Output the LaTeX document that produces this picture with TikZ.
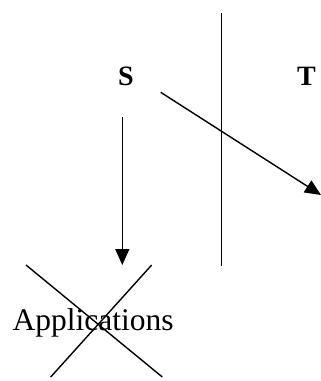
\documentclass[tikz,border=0pt]{standalone}
\usepackage{fontspec}
\setmainfont{Liberation Serif}
\usetikzlibrary{arrows.meta}

\begin{document}
\begin{tikzpicture}[x=1pt,y=-1pt,line width=1.4pt,
  arr/.style={-{Triangle[length=16pt,width=14pt]}},
  side/.style={font=\bfseries\fontsize{28}{32}\selectfont,anchor=base,inner sep=0pt}]
  \useasboundingbox (0,0) rectangle (321,381);
  \node[side] (s) at (126,85) {S};
  \node[side] (t) at (306.5,85) {T};
  \node[font=\fontsize{31.5}{36}\selectfont,anchor=base west,inner sep=0pt] (apps) at (12,330) {Applications};

  \coordinate (wallTop) at (221.7,13);
  \coordinate (wallBot) at (221.7,266);
  \draw (wallTop) -- (wallBot);

  \coordinate (sOut) at (160.7,92.3);
  \coordinate (tIn) at (321,195);
  \draw[arr] (sOut) -- (tIn);

  \coordinate (sDown) at (122.3,117);
  \coordinate (appsIn) at (122.3,265);
  \draw[arr] (sDown) -- (appsIn);

  % cross over the applications
  \draw (26,265) -- (162.3,377);
  \draw (151.7,265) -- (50.7,377);
\end{tikzpicture}
\end{document}
